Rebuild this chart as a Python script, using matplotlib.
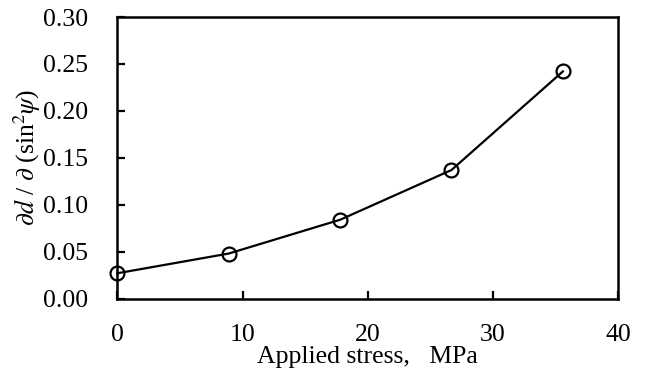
import matplotlib.pyplot as plt

# data
stress = [0, 8.9, 17.8, 26.7, 35.6]
slope = [0.027, 0.048, 0.084, 0.137, 0.242]
xticks = [0, 10, 20, 30, 40]
yticks = [0.00, 0.05, 0.10, 0.15, 0.20, 0.25, 0.30]

plt.rcParams['font.family'] = 'Liberation Serif'
plt.rcParams['mathtext.fontset'] = 'stix'

fig = plt.figure(figsize=(6.45, 3.7), dpi=100)
ax = fig.add_axes([0.182, 0.193, 0.776, 0.761])

ax.plot(stress, slope, color='black', lw=1.6, marker='o', ms=10,
        mfc='none', mec='black', mew=1.6, clip_on=False)

ax.set_xlim(0, 40)
ax.set_ylim(0, 0.30)
ax.set_xticks(xticks)
ax.set_yticks(yticks)
ax.set_yticklabels([f'{v:.2f}' for v in yticks])

for s in ax.spines.values():
    s.set_linewidth(1.8)
ax.tick_params(direction='in', length=6, width=1.6, labelsize=18.5,
               top=False, right=False)
ax.tick_params(axis='x', pad=18.5)
ax.tick_params(axis='y', pad=21)

ax.set_xlabel('Applied stress,   MPa', fontsize=18.5, labelpad=0)
ax.set_ylabel(r'$\partial d$ / $\partial$ (sin$^2\psi$)', fontsize=18.5,
              labelpad=0)

fig.savefig('out.png', dpi=100)
